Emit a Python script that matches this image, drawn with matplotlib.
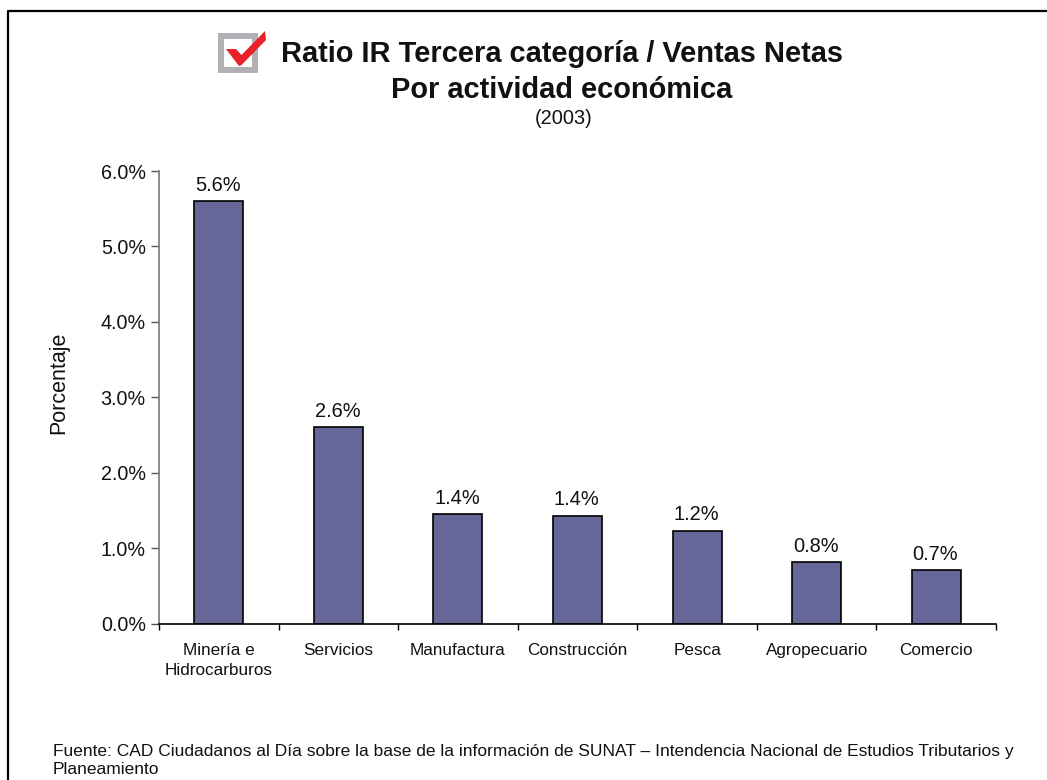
import matplotlib
matplotlib.use("Agg")
import matplotlib.pyplot as plt
from matplotlib.patches import Rectangle, Polygon
from matplotlib.lines import Line2D
from matplotlib.transforms import ScaledTranslation

categorias = ["Minería e\nHidrocarburos", "Servicios", "Manufactura", "Construcción",
              "Pesca", "Agropecuario", "Comercio"]
ratios = [5.6, 2.6, 1.45, 1.43, 1.23, 0.81, 0.71]
etiquetas = ["5.6%", "2.6%", "1.4%", "1.4%", "1.2%", "0.8%", "0.7%"]
ticks_y = [0, 1, 2, 3, 4, 5, 6]

W, H = 1047, 780
plt.rcParams["font.family"] = ["Liberation Sans", "DejaVu Sans"]

fig = plt.figure(figsize=(W / 100, H / 100), dpi=100)

# borde del recuadro: solo arriba y a la izquierda
fig.add_artist(Line2D([8 / W, 8 / W, 1], [0, 1 - 11 / H, 1 - 11 / H], transform=fig.transFigure,
                      color="black", linewidth=1.6))

ax = fig.add_axes([159 / W, 1 - 623.5 / H, (996 - 159) / W, (623.5 - 171) / H])
pos = list(range(len(categorias)))
ax.bar(pos, ratios, width=0.41, color="#666699", edgecolor="black", linewidth=1.2)
for x, v, t in zip(pos, ratios, etiquetas):
    ax.annotate(t, (x, v), xytext=(-0.7, 4.5), textcoords="offset points", ha="center", va="bottom",
                fontsize=14.4, color="#111111")

ax.set_xlim(-0.5, 6.5)
ax.set_ylim(0, 6)
ax.set_yticks(ticks_y)
ax.set_yticklabels([f"{v:.1f}%" for v in ticks_y], fontsize=14.2, color="#111111")
# las etiquetas del eje y van un poco por debajo de la marca
baja = ScaledTranslation(0, -3.5 / 100, fig.dpi_scale_trans)
for lab in ax.get_yticklabels():
    lab.set_transform(lab.get_transform() + baja)
ax.set_xticks([p - 0.5 for p in pos] + [6.5])
ax.set_xticklabels([])
ax.set_xticks(pos, minor=True)
ax.set_xticklabels(categorias, minor=True, fontsize=12.3, color="#111111", linespacing=1.42)
ax.tick_params(axis="x", which="minor", length=0, pad=14)
ax.tick_params(axis="x", which="major", length=4, width=1, direction="out")
ax.tick_params(axis="y", length=6, width=1, color="#555555", pad=3.5, direction="out")
ax.spines["top"].set_visible(False)
ax.spines["right"].set_visible(False)
ax.spines["left"].set_color("#777777")
ax.spines["left"].set_linewidth(1.2)
ax.spines["bottom"].set_linewidth(1.2)

fig.text(59 / W, 1 - 382.5 / H, "Porcentaje", rotation=90, ha="center", va="center",
         fontsize=15.5, color="#111111")

fig.text(562 / W, 1 - 62 / H, "Ratio IR Tercera categoría / Ventas Netas", ha="center", va="baseline",
         fontsize=20.9, fontweight="bold", color="#111111")
fig.text(562 / W, 1 - 97.7 / H, "Por actividad económica", ha="center", va="baseline",
         fontsize=20.9, fontweight="bold", color="#111111")
fig.text(563.5 / W, 1 - 118.5 / H, "(2003)", ha="center", va="center", fontsize=14.4, color="#111111")

fig.text(53 / W, 1 - 760.5 / H,
         "Fuente: CAD Ciudadanos al Día sobre la base de la información de SUNAT – "
         "Intendencia Nacional de Estudios Tributarios y\nPlaneamiento",
         ha="left", va="center", fontsize=12.5, color="#111111", linespacing=1.27)

# icono del titulo
fig.add_artist(Rectangle((221 / W, 1 - 70 / H), 34 / W, 34 / H, transform=fig.transFigure,
                         fill=False, edgecolor="#b0b1b5", linewidth=4.3))
check = [(226, 49), (236, 49), (241.5, 55), (265, 31), (266, 40), (241.5, 65), (239, 66)]
fig.add_artist(Polygon([(x / W, 1 - y / H) for x, y in check], closed=True,
                       transform=fig.transFigure, facecolor="#e8212b", edgecolor="none"))

fig.savefig("out.png", dpi=100)
